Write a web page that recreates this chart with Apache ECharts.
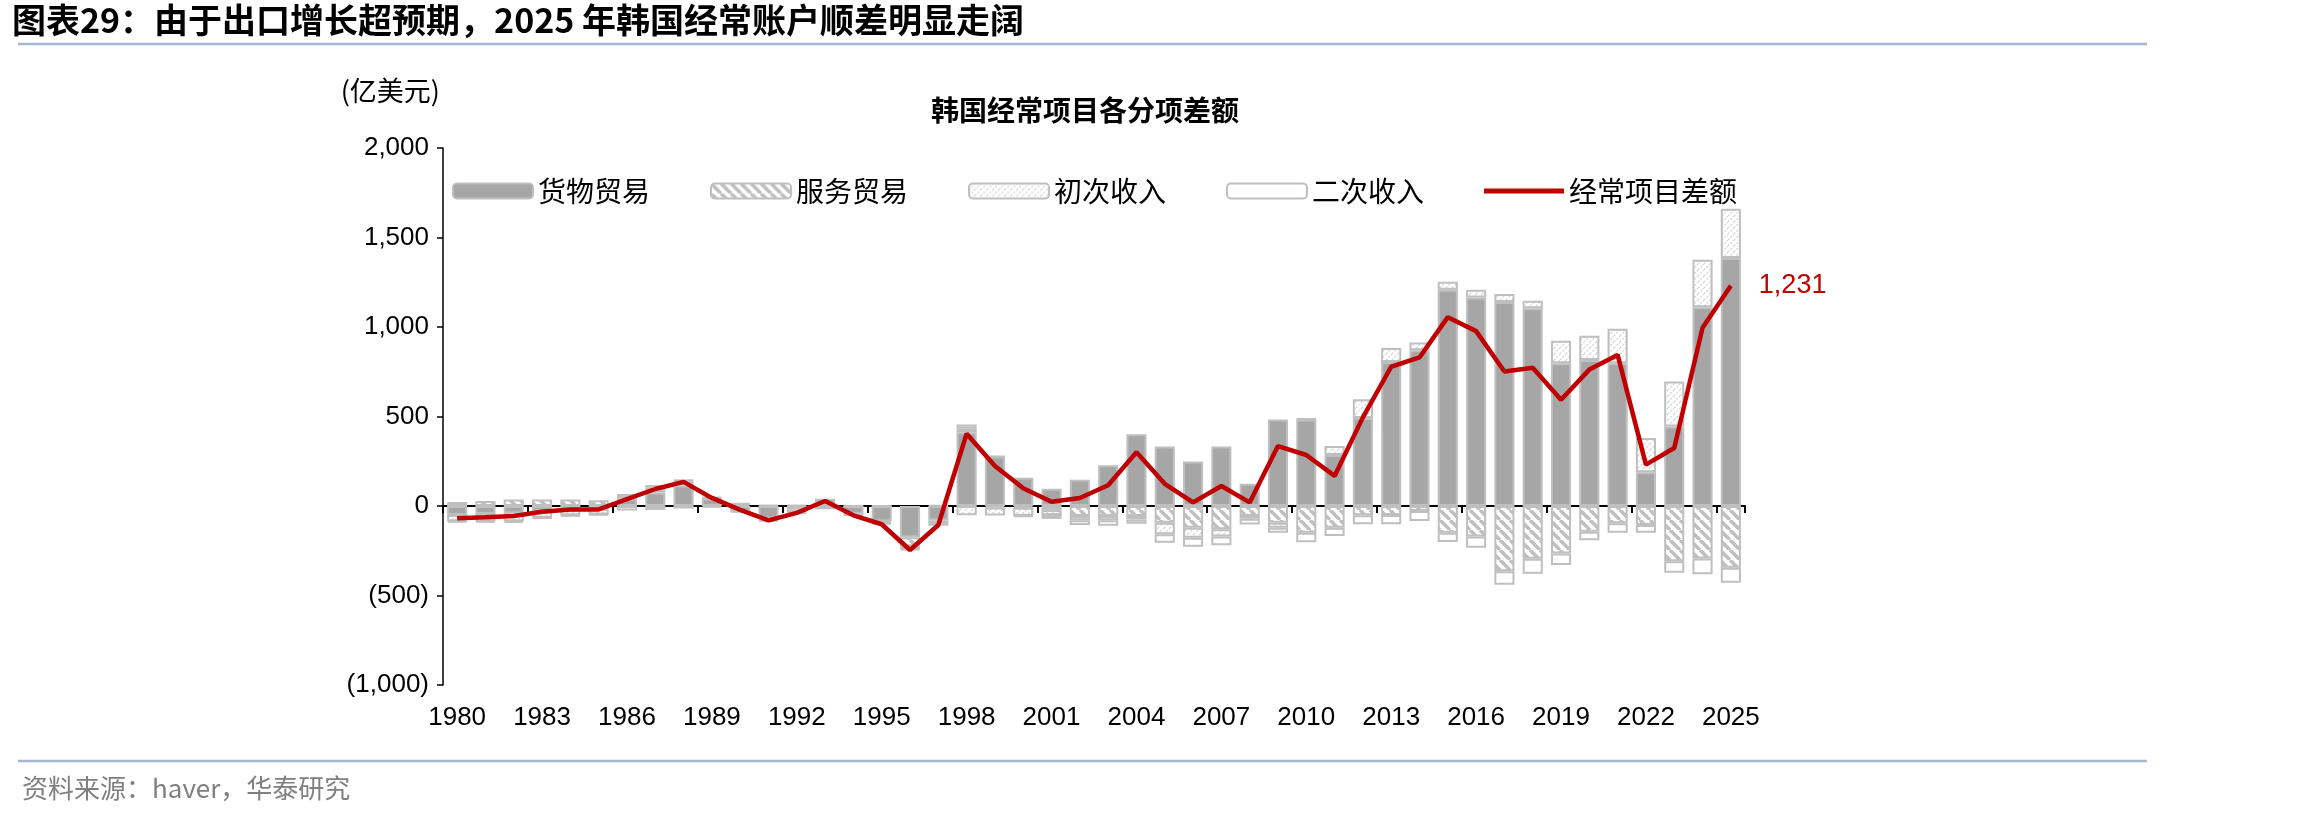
<!DOCTYPE html>
<html>
	<head>
		<meta charset="utf-8">
		<title>韩国经常项目各分项差额</title>
		<script src="https://cdn.jsdelivr.net/npm/echarts@6.0.0/dist/echarts.min.js"></script>
		<style>
			html, body { margin: 0; padding: 0; background: #fff; }
			#main { width: 2298px; height: 816px; }
		</style>
	</head>
	<body>
		<div id="main"></div>
		<script>
			// 数据（亿美元）
			var years = ['1980', '1981', '1982', '1983', '1984', '1985', '1986', '1987', '1988', '1989',
				'1990', '1991', '1992', '1993', '1994', '1995', '1996', '1997', '1998', '1999',
				'2000', '2001', '2002', '2003', '2004', '2005', '2006', '2007', '2008', '2009',
				'2010', '2011', '2012', '2013', '2014', '2015', '2016', '2017', '2018', '2019',
				'2020', '2021', '2022', '2023', '2024', '2025'];
			var goods = [-50, -45, -40, -30, -20, -15, 40, 75, 115, 40,
				-30, -70, -20, 41, -45, -85, -175, -80, 410, 276,
				158, 97, 147, 227, 401, 332, 248, 332, 125, 483,
				483, 285, 492, 805, 870, 1208, 1165, 1139, 1105, 798,
				816, 798, 188, 444, 1111, 1385];
			var services = [22, 28, 37, 37, 37, 32, 20, 27, 22, 5,
				10, 5, 5, -5, -3, -10, -50, -15, 22, -8,
				-10, -22, -56, -56, -56, -93, -121, -130, -56, -93,
				-150, -121, -52, -50, -28, -149, -171, -365, -295, -265,
				-144, -97, -106, -308, -293, -345];
			var primary = [-35, -40, -45, -35, -32, -33, -25, -22, -14, -7,
				-5, -10, -15, -8, -5, -8, -15, -15, -52, -45,
				-45, -28, -24, -24, -19, -65, -56, -41, -15, -28,
				5, 50, 105, 77, 43, 45, 43, 45, 41, 125,
				135, 192, 192, 251, 265, 276];
			var secondary = [-6, -6, -8, -4, -4, -3, 3, 15, 12, 5,
				5, -5, -8, 0, 1, 1, -6, 4, 24, 1,
				-4, -22, -26, -30, -24, -47, -50, -48, -32, -28,
				-52, -47, -50, -52, -56, -52, -62, -75, -84, -65,
				-47, -52, -43, -65, -88, -84];
			var currentAccount = [-69, -63, -56, -32, -19, -19, 38, 95, 135, 45,
				-22, -80, -38, 28, -52, -102, -246, -106, 404, 224,
				99, 24, 45, 116, 300, 124, 20, 112, 20, 335,
				285, 168, 495, 778, 830, 1055, 977, 751, 772, 594,
				762, 844, 231, 324, 996, 1231];

			var numFont = 'Arial, "Liberation Sans", sans-serif';
			var cnFont = '"Noto Sans CJK SC", sans-serif';
			var borderGray = '#bfbfbf';

			// 填充纹理
			function makeHatch(size, color, width, dir, dash) {
				var c = document.createElement('canvas');
				c.width = size;
				c.height = size;
				var ctx = c.getContext('2d');
				ctx.fillStyle = '#fff';
				ctx.fillRect(0, 0, size, size);
				ctx.strokeStyle = color;
				ctx.lineWidth = width;
				if (dash) ctx.setLineDash(dash);
				for (var k = -1; k <= 1; k++) {
					ctx.beginPath();
					if (dir === 'back') {
						ctx.moveTo(k * size, 0);
						ctx.lineTo(k * size + size, size);
					} else {
						ctx.moveTo(k * size, size);
						ctx.lineTo(k * size + size, 0);
					}
					ctx.stroke();
				}
				return c;
			}
			var servicesPattern = makeHatch(10, '#bfbfbf', 3.5, 'back');
			var primaryPattern = makeHatch(6, '#d4d4d4', 1.3, 'fwd', [2, 1.5]);

			var chart = echarts.init(document.getElementById('main'));
			var option = {
				backgroundColor: '#fff',
				animation: false,
				grid: {
					left: 443,
					right: 553,
					top: 148,
					bottom: 131,
					containLabel: false
				},
				legend: {
					top: 172,
					left: 447,
					itemWidth: 80,
					itemHeight: 15,
					itemGap: 60,
					textStyle: {
						fontSize: 28,
						fontFamily: cnFont,
						color: '#000'
					},
					data: ['货物贸易', '服务贸易', '初次收入', '二次收入', {
						name: '经常项目差额',
						icon: 'path://M0,0 L80,0 L80,5 L0,5 Z',
						itemStyle: { color: '#c00000' }
					}]
				},
				xAxis: [{
					type: 'category',
					data: years,
					axisLine: { onZero: true, lineStyle: { color: '#000', width: 2 } },
					axisTick: { show: true, interval: 2, length: 7, lineStyle: { color: '#000', width: 2 } },
					axisLabel: { show: false },
					splitLine: { show: false }
				}, {
					type: 'category',
					data: years,
					position: 'bottom',
					axisLine: { show: false, onZero: false },
					axisTick: { show: false },
					axisLabel: {
						interval: 2,
						margin: 20,
						fontSize: 26,
						fontFamily: numFont,
						color: '#000'
					}
				}],
				yAxis: {
					type: 'value',
					min: -1000,
					max: 2000,
					interval: 500,
					axisLine: { show: true, lineStyle: { color: '#000', width: 1.5 } },
					axisTick: { show: true, length: 6, lineStyle: { color: '#000', width: 1.5 } },
					splitLine: { show: false },
					axisLabel: {
						margin: 14,
						fontSize: 26,
						fontFamily: numFont,
						color: '#000',
						formatter: function(v) {
							if (v < 0) return '(' + Math.abs(v).toLocaleString('en-US') + ')';
							return v.toLocaleString('en-US');
						}
					}
				},
				series: [{
					name: '货物贸易',
					type: 'bar',
					stack: 'ca',
					barCategoryGap: '29%',
					data: goods,
					itemStyle: { color: '#a6a6a6', borderColor: borderGray, borderWidth: 2 }
				}, {
					name: '服务贸易',
					type: 'bar',
					stack: 'ca',
					data: services,
					itemStyle: { color: { image: servicesPattern, repeat: 'repeat' }, borderColor: borderGray, borderWidth: 2 }
				}, {
					name: '初次收入',
					type: 'bar',
					stack: 'ca',
					data: primary,
					itemStyle: { color: { image: primaryPattern, repeat: 'repeat' }, borderColor: borderGray, borderWidth: 2 }
				}, {
					name: '二次收入',
					type: 'bar',
					stack: 'ca',
					data: secondary,
					itemStyle: { color: '#fff', borderColor: borderGray, borderWidth: 2 }
				}, {
					name: '经常项目差额',
					type: 'line',
					data: currentAccount,
					symbol: 'none',
					z: 5,
					lineStyle: { color: '#c00000', width: 4.5 },
					itemStyle: { color: '#c00000' },
					endLabel: {
						show: true,
						distance: 28,
						color: '#c00000',
						fontSize: 27,
						fontFamily: numFont,
						formatter: function(p) { return p.value.toLocaleString('en-US'); }
					}
				}],
				graphic: [{
					type: 'text',
					left: 12,
					top: 3,
					style: {
						text: '图表29：由于出口增长超预期，2025 年韩国经常账户顺差明显走阔',
						font: 'bold 34px "Noto Sans CJK SC", sans-serif',
						fill: '#000'
					}
				}, {
					type: 'line',
					shape: { x1: 18, y1: 44, x2: 2147, y2: 44 },
					style: { stroke: '#a3b8ce', lineWidth: 2.5 }
				}, {
					type: 'text',
					x: 440,
					y: 91,
					style: {
						text: '(亿美元)',
						font: '27px "Noto Sans CJK SC", sans-serif',
						fill: '#000',
						align: 'right',
						verticalAlign: 'middle'
					}
				}, {
					type: 'text',
					x: 1085,
					y: 110,
					style: {
						text: '韩国经常项目各分项差额',
						font: 'bold 28px "Noto Sans CJK SC", sans-serif',
						fill: '#000',
						align: 'center',
						verticalAlign: 'middle'
					}
				}, {
					type: 'line',
					shape: { x1: 18, y1: 761, x2: 2147, y2: 761 },
					style: { stroke: '#a3b8ce', lineWidth: 2.5 }
				}, {
					type: 'text',
					x: 22,
					y: 788,
					style: {
						text: '资料来源：haver，华泰研究',
						font: '26px "Noto Sans CJK SC", sans-serif',
						fill: '#7f7f7f',
						verticalAlign: 'middle'
					}
				}]
			};
			chart.setOption(option);
		</script>
	</body>
</html>
